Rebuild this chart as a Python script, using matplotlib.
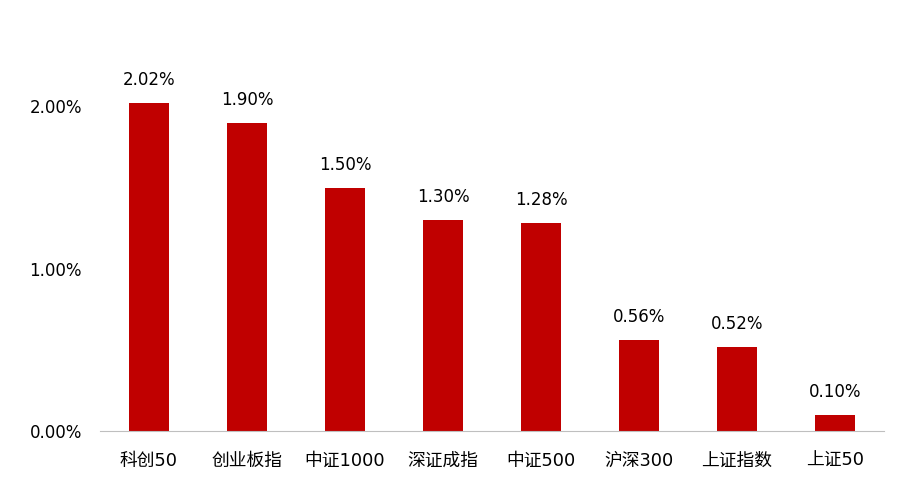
import matplotlib
matplotlib.use("Agg")
import matplotlib.pyplot as plt
from matplotlib.ticker import FuncFormatter

plt.rcParams['font.family'] = ['DejaVu Sans', 'Noto Sans CJK SC']

# index names and daily change (%)
names = ["科创50", "创业板指", "中证1000", "深证成指", "中证500", "沪深300", "上证指数", "上证50"]
changes = [2.02, 1.90, 1.50, 1.30, 1.28, 0.56, 0.52, 0.10]
yticks = [0.0, 1.0, 2.0]

fig = plt.figure(figsize=(9.03, 4.84), dpi=100)
ax = fig.add_axes([0.1107, 0.1095, 0.8683, 0.8385])

bars = ax.bar(range(len(names)), changes, width=0.41, color="#C00000")
for i, v in enumerate(changes):
    ax.annotate(f"{v:.2f}%", (i, v), xytext=(0, 10), textcoords="offset points",
                ha="center", va="bottom", fontsize=12, color="black")

ax.set_xlim(-0.5, len(names) - 0.5)
ax.set_ylim(0, 2.5)
ax.set_yticks(yticks)
ax.yaxis.set_major_formatter(FuncFormatter(lambda v, p: f"{v:.2f}%"))
ax.set_xticks(range(len(names)))
ax.set_xticklabels(names)
ax.tick_params(axis="both", length=0, labelsize=12, colors="black")
ax.tick_params(axis="y", pad=13)
ax.tick_params(axis="x", pad=15, labelsize=12.8)

for s in ["top", "right", "left"]:
    ax.spines[s].set_visible(False)
ax.spines["bottom"].set_color("#BFBFBF")

fig.savefig("out.png", dpi=100)
